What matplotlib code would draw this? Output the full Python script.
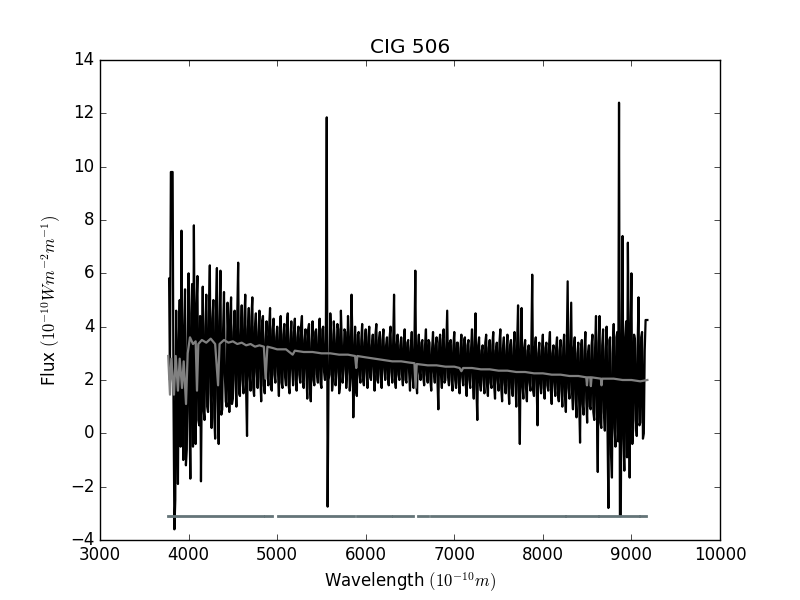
import numpy as np
import matplotlib
matplotlib.use('Agg')
import matplotlib.pyplot as plt

plt.style.use('classic')

# observed spectrum, even pixels: 3780, 3800, ... 9180 A
flux_even = [
    5.8, 9.8, 9.8, -3.6, 4.6, -1.9, 5.0, 7.6, -1.0, 5.4,
    -0.6, 6.0, -1.7, 5.6, 7.8, -0.4, 5.9, 0.3, -1.8, 5.5,
    0.5, 5.2, 0.8, 6.3, 0.2, 5.0, -0.2, 6.2, -0.4, 6.1,
    0.9, 5.3, 1.2, 4.9, 0.8, 5.1, 1.3, 4.6, 1.0, 6.4,
    1.4, 4.8, 1.5, 5.2, -0.1, 4.7, 1.6, 5.1, 1.4, 4.5,
    1.7, 4.6, 1.2, 4.4, 1.5, 4.2, 1.8, 4.7, 1.6, 4.3,
    1.9, 4.0, 1.4, 4.4, 1.7, 4.1, 1.8, 4.5, 1.5, 4.2,
    1.8, 4.3, 1.6, 4.0, 1.9, 4.4, 1.7, 3.9, 1.3, 4.1,
    1.2, 4.2, 1.8, 3.9, 1.9, 4.3, 1.7, 4.0, 2.0, 11.85,
    2.0, 4.5, 1.6, 4.2, 1.8, 4.1, 1.5, 4.6, 1.9, 3.9,
    1.7, 4.4, 1.6, 5.2, 0.6, 4.0, 1.4, 3.8, 1.9, 4.1,
    1.8, 3.9, 1.7, 4.0, 2.0, 3.7, 1.6, 4.1, 1.9, 3.8,
    1.7, 3.9, 2.0, 3.6, 1.8, 4.0, 1.9, 5.2, 1.7, 3.7,
    2.0, 3.6, 1.8, 3.9, 1.9, 3.5, 1.6, 3.8, 1.7, 6.1,
    1.5, 3.7, 2.0, 3.5, 1.8, 3.9, 1.9, 3.4, 1.6, 3.8,
    1.9, 3.6, 0.9, 3.7, 1.7, 3.9, 2.0, 4.6, 1.8, 3.5,
    1.6, 3.8, 1.7, 3.4, 1.5, 3.7, 1.8, 3.6, 1.4, 3.5,
    1.7, 3.9, 1.3, 4.5, 0.5, 3.6, 1.6, 3.3, 1.5, 3.7,
    1.4, 3.5, 1.7, 3.8, 1.3, 3.4, 1.6, 3.9, 1.2, 3.6,
    1.5, 3.7, 1.1, 3.5, 1.4, 3.8, 1.0, 4.8, -0.4, 4.7,
    1.3, 3.5, 1.2, 3.3, 1.6, 5.95, 1.4, 3.6, 0.3, 3.4,
    1.5, 3.7, 1.3, 3.4, 1.6, 3.8, 1.1, 3.3, 1.4, 3.6,
    1.2, 3.5, 1.0, 3.7, 0.8, 5.7, 1.3, 4.9, 0.9, 3.6,
    0.6, 3.4, -0.35, 3.5, 0.7, 3.8, 0.4, 3.3, 0.9, 3.7,
    0.5, 4.4, -1.45, 4.4, 0.2, 3.9, 0.1, 4.0, -2.8, 3.6,
    -1.66, 4.1, -0.5, 3.8, 12.4, -3.1, 7.4, -1.4, 4.2, 7.15,
    -1.66, 6.0, 0.2, 3.5, -0.1, 5.1, 0.4, 3.8, 0.0, 4.25,
    4.25,
]
# odd pixels: 3790, 3810, ... 9170 A
flux_odd = [
    2.0, 9.8, 1.2, -2.5, 1.0, 3.5, -0.5, 2.0, 3.8, -1.2,
    3.2, 0.8, 4.5, -0.5, 2.5, 4.8, 0.5, 4.4, 2.2, 0.9,
    4.0, 1.0, 4.6, 1.5, 4.3, 0.6, 4.8, 1.3, 4.2, 0.7,
    3.9, 2.2, 1.0, 3.5, 4.4, 1.1, 3.8, 2.0, 4.5, 1.5,
    3.6, 2.0, 4.3, 1.6, 3.9, 2.2, 4.4, 1.7, 4.0, 2.3,
    3.8, 2.1, 4.2, 1.8, 3.5, 2.4, 4.0, 1.7, 3.9, 2.2,
    3.6, 2.3, 3.9, 1.9, 3.7, 2.1, 4.1, 1.8, 3.5, 2.4,
    3.8, 2.0, 3.6, 2.2, 4.0, 1.9, 3.5, 2.3, 3.9, 1.7,
    3.4, 2.0, 3.8, 2.2, 3.6, 1.9, 3.9, 2.3, 3.5, -2.75,
    2.2, 3.7, 2.0, 3.5, 2.3, 3.9, 1.8, 3.4, 2.4, 3.8,
    2.3, 3.6, 2.1, 3.4, 2.5, 1.6, 3.7, 2.2, 3.5, 2.0,
    3.4, 2.3, 3.6, 2.1, 3.3, 2.4, 3.7, 2.0, 3.5, 2.2,
    3.5, 2.4, 3.3, 2.1, 3.6, 2.3, 3.4, 2.0, 3.3, 2.2,
    3.3, 2.2, 3.5, 2.0, 3.4, 2.3, 3.2, 2.1, 3.3, 1.9,
    3.2, 2.3, 3.4, 2.1, 3.3, 2.2, 3.5, 2.0, 3.2, 2.3,
    3.3, 2.0, 3.4, 2.2, 3.5, 1.9, 3.3, 2.1, 3.4, 2.0,
    3.3, 2.0, 3.4, 1.9, 3.2, 2.1, 3.5, 1.8, 3.3, 2.0,
    3.2, 2.1, 3.4, 1.7, 3.3, 1.9, 3.1, 2.0, 3.4, 1.8,
    3.2, 1.9, 3.3, 1.8, 3.1, 2.0, 3.4, 1.7, 3.2, 1.9,
    3.1, 1.8, 3.3, 1.7, 3.2, 1.9, 3.4, 1.6, 3.1, 1.8,
    3.2, 1.7, 3.1, 1.9, 3.3, 1.6, 3.2, 1.8, 3.0, 1.9,
    3.1, 1.7, 3.2, 1.8, 3.3, 1.6, 3.0, 1.9, 3.2, 1.5,
    3.1, 1.6, 3.2, 1.4, 3.3, 1.7, 3.0, 1.5, 3.2, 1.3,
    3.0, 1.2, 3.2, 1.1, 3.1, 1.3, 3.0, 1.0, 3.3, 0.8,
    3.2, 0.9, 3.4, 0.4, 3.3, 0.8, 3.1, 0.2, 3.5, -0.8,
    3.0, 0.2, 3.6, -0.3, -3.1, 3.4, -0.2, 3.6, -0.9, 3.2,
    3.4, -0.4, 3.7, 0.5, 3.2, 0.3, 3.6, -0.2, 3.1, 4.25,
]
wave_start = 3780
wave_step = 10

flux = []
for a, b in zip(flux_even, flux_odd):
    flux += [a, b]
flux.append(flux_even[-1])
wave = wave_start + wave_step * np.arange(len(flux))

# fitted model (grey)
model_wave = [3770, 3790, 3805, 3835, 3855, 3880, 3900, 3926, 3945, 3971,
              3990, 4016, 4050, 4080, 4095, 4110, 4150, 4200, 4250, 4300,
              4333, 4350, 4400, 4450, 4500, 4550, 4600, 4650, 4700, 4750,
              4800, 4850, 4870, 4890, 4950, 5000, 5100, 5175, 5200, 5300,
              5400, 5500, 5600, 5700, 5800, 5880, 5893, 5905, 6000, 6100,
              6200, 6300, 6400, 6500, 6550, 6563, 6576, 6700, 6800, 6900,
              7000, 7060, 7080, 7100, 7200, 7300, 7400, 7500, 7600, 7700,
              7800, 7900, 8000, 8100, 8200, 8300, 8400, 8490, 8498, 8506,
              8535, 8542, 8550, 8655, 8662, 8670, 8800, 8900, 9000, 9100,
              9180]
model_flux = [2.9, 1.45, 2.8, 1.45, 2.9, 1.6, 2.8, 1.7, 2.7, 1.1,
              3.0, 3.6, 3.35, 3.45, 1.6, 3.35, 3.5, 3.4, 3.55, 3.35,
              1.8, 3.35, 3.5, 3.4, 3.45, 3.35, 3.4, 3.3, 3.35, 3.25,
              3.3, 3.25, 2.05, 3.25, 3.2, 3.15, 3.15, 2.95, 3.1, 3.05,
              3.05, 3.0, 3.0, 2.95, 2.95, 2.9, 2.45, 2.9, 2.85, 2.8,
              2.75, 2.7, 2.7, 2.65, 2.63, 1.7, 2.6, 2.55, 2.55, 2.5,
              2.5, 2.45, 2.33, 2.45, 2.45, 2.4, 2.4, 2.35, 2.35, 2.3,
              2.3, 2.25, 2.25, 2.2, 2.2, 2.15, 2.15, 2.1, 1.8, 2.1,
              2.1, 1.77, 2.1, 2.05, 1.8, 2.05, 2.05, 2.0, 2.0, 1.95,
              2.0]

# masked pixel bar at the bottom
mask_level = -3.1
mask_starts = [3768, 4863, 5010, 5902, 6310, 6590, 6737, 8262, 8634, 9097]
mask_ends = [4840, 4940, 5868, 6285, 6534, 6703, 8250, 8622, 9086, 9165]

mask_x = []
mask_y = []
for s, e in zip(mask_starts, mask_ends):
    mask_x += [s, e, np.nan]
    mask_y += [mask_level, mask_level, np.nan]

fig = plt.figure(figsize=(8, 6), dpi=100)
ax = fig.add_subplot(111)
ax.plot(wave, flux, color='black', lw=1.6)
ax.plot(model_wave, model_flux, color='#808080', lw=1.6)
ax.plot(mask_x, mask_y, color='#647478', lw=2)

ax.set_xlim(3000, 10000)
ax.set_ylim(-4, 14)
ax.set_title('CIG 506')
ax.set_xlabel(r'Wavelength $(10^{-10}m)$')
ax.set_ylabel(r'Flux $(10^{-10}Wm^{-2}m^{-1})$')

fig.savefig('out.png', dpi=100)
